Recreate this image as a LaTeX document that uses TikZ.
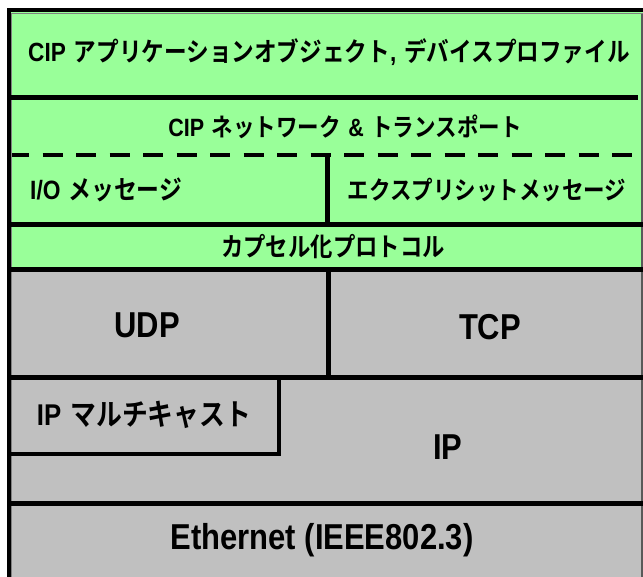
\documentclass[tikz,border=0pt]{standalone}
\usepackage{fontspec}
\newfontfamily\latf{Liberation Sans Bold}[FakeStretch=0.86]
\newfontfamily\jpf{Noto Sans CJK JP Bold}[FakeStretch=0.86]
\newcommand\lt[1]{{\latf #1}}
\newcommand\jt[1]{{\jpf #1}}
\definecolor{cipgreen}{HTML}{99FF99}
\definecolor{netgray}{HTML}{C0C0C0}
\begin{document}
\begin{tikzpicture}[x=1pt,y=-1pt,
  sep/.style={line width=5pt,black},
  lbl/.style={inner sep=0pt,anchor=center,text=black},
  small/.style={lbl,font=\fontsize{25}{28}\selectfont},
  big/.style={lbl,font=\fontsize{36}{40}\selectfont},
  mid/.style={lbl,font=\fontsize{30}{34}\selectfont}]
\useasboundingbox (0,0) rectangle (643,577);
\fill[white] (0,0) rectangle (643,577);
% areas
\fill[cipgreen] (10,12) rectangle (643,270);
\fill[netgray] (10,270) rectangle (643,577);
% frame
\draw[line width=4pt] (7,10.5) -- (643,10.5);
\draw[line width=1pt,gray] (11,13.5) -- (643,13.5);
\draw[line width=4pt] (8.5,8.5) -- (8.5,577);
\draw[line width=1pt,gray] (11.5,13) -- (11.5,577);
\draw[line width=1.5pt,gray!70!black] (642.2,14) -- (642.2,577);
% dividers
\draw[sep] (10,97.5) -- (638,97.5);
\draw[line width=4.5pt,dash pattern=on 20pt off 13.5pt,dash phase=3pt] (12,155) -- (643,155);
\draw[sep] (327.5,155) -- (327.5,224.5);
\draw[sep] (10,224.5) -- (643,224.5);
\draw[sep] (10,269.5) -- (643,269.5);
\draw[sep] (328,269.5) -- (328,377.5);
\draw[sep] (10,377.5) -- (643,377.5);
\draw[line width=4.5pt] (10,454) -- (279,454) -- (279,377.5);
\draw[sep] (10,503.5) -- (643,503.5);
% labels
\node[small,font=\fontsize{26.3}{30}\selectfont] (app) at (329,52) {\lt{CIP} \jt{アプリケーションオブジェクト}\lt{,} \jt{デバイスプロファイル}};
\node[small] (net) at (345,127) {\lt{CIP} \jt{ネットワーク} \lt{\&} \jt{トランスポート}};
\node[small,anchor=west,font=\fontsize{26.5}{30}\selectfont] (io) at (30,190) {\lt{I/O} \jt{メッセージ}};
\node[small] (exp) at (487,190) {\jt{エクスプリシットメッセージ}};
\node[small,font=\fontsize{26}{30}\selectfont] (enc) at (333,247) {\jt{カプセル化プロトコル}};
\node[big] (udp) at (147,325) {\lt{UDP}};
\node[big] (tcp) at (490,327) {\lt{TCP}};
\node[mid] (mc) at (144,415) {\lt{IP} \jt{マルチキャスト}};
\node[big] (ip) at (448,447) {\lt{IP}};
\node[lbl,font=\fontsize{36}{40}\selectfont] (eth) at (322,540) {\lt{Ethernet (IEEE802.3)}};
\end{tikzpicture}
\end{document}
